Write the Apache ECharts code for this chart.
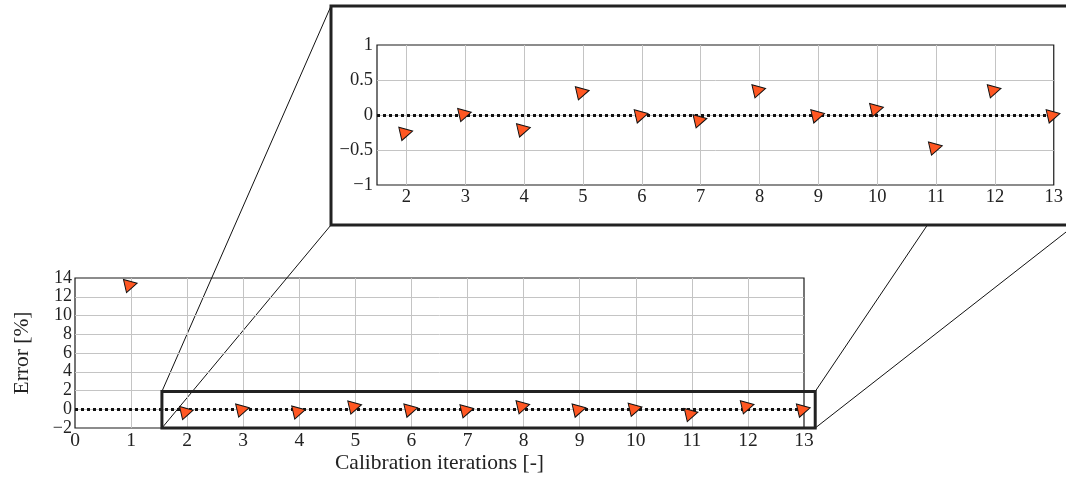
<!DOCTYPE html>
<html><head><meta charset="utf-8">
<script src="https://cdn.jsdelivr.net/npm/echarts@6/dist/echarts.min.js"></script>
<style>html,body{margin:0;padding:0;background:#fff}#c{width:1066px;height:477px}</style>
</head><body><div id="c"></div>
<script>
// ---- data ----
const iterations = [1, 2, 3, 4, 5, 6, 7, 8, 9, 10, 11, 12, 13];
const errors = [13.3, -0.25, 0.02, -0.2, 0.33, 0.0, -0.07, 0.36, 0.0, 0.09, -0.46, 0.36, 0.0];
const mainXRange = [0, 13];
const mainYRange = [-2, 14];
const insetXRange = [1.5, 13];
const insetYRange = [-1, 1];
const zoomBoxX = [1.55, 13.2];
const zoomBoxY = [-2, 1.9];
const xName = 'Calibration iterations [-]';
const yName = 'Error [%]';

const FONT = 'Liberation Serif';
const fmt = v => (v < 0 ? '\u2212' + Math.abs(v) : String(v));
const pairs = iterations.map((x, i) => [x, errors[i]]);
const insetPairs = pairs.filter(p => p[0] >= insetXRange[0] && p[0] <= insetXRange[1]);

const gridLine = { show: true, showMinLine: false, showMaxLine: false, lineStyle: { color: '#c4c4c4', width: 1 } };
const lbl = { color: '#222', fontFamily: FONT, fontSize: 19.5, hideOverlap: false };
const markerStyle = { color: '#ff5722', borderColor: '#111', borderWidth: 1, opacity: 1 };
const zeroLine = {
  silent: true, symbol: 'none', z: 1, label: { show: false },
  lineStyle: { color: '#111', type: [3, 3], width: 3, cap: 'butt' },
  emphasis: { disabled: true },
  data: [{ yAxis: 0 }]
};

const chart = echarts.init(document.getElementById('c'), null, { renderer: 'canvas' });
chart.setOption({
  animation: false,
  grid: [
    { left: 75, top: 278, width: 729, height: 150, show: true, borderColor: '#1a1a1a', borderWidth: 1.2, backgroundColor: 'transparent' },
    { left: 377, top: 45, width: 682, height: 140, show: true, borderColor: '#1a1a1a', borderWidth: 1.2, backgroundColor: 'transparent' }
  ],
  xAxis: [
    { type: 'value', gridIndex: 0, min: mainXRange[0], max: mainXRange[1], interval: 1,
      axisLine: { show: false }, axisTick: { show: false }, splitLine: gridLine,
      axisLabel: Object.assign({ margin: 3, formatter: fmt }, lbl),
      name: xName, nameLocation: 'middle', nameGap: 23,
      nameTextStyle: { color: '#222', fontFamily: FONT, fontSize: 21.5 } },
    { type: 'value', gridIndex: 1, min: insetXRange[0], max: insetXRange[1], interval: 0.5,
      axisLine: { show: false }, axisTick: { show: false },
      splitLine: { show: true, showMaxLine: false, lineStyle: { color: ['rgba(0,0,0,0)', '#c4c4c4'], width: 1 } },
      axisLabel: Object.assign({ margin: 3, showMinLabel: false,
        formatter: v => (Number.isInteger(v) ? fmt(v) : '') }, lbl, { fontSize: 18.5 }) }
  ],
  yAxis: [
    { type: 'value', gridIndex: 0, min: mainYRange[0], max: mainYRange[1], interval: 2,
      axisLine: { show: false }, axisTick: { show: false }, splitLine: gridLine,
      axisLabel: Object.assign({ margin: 3, formatter: fmt, lineHeight: 14 }, lbl, { fontSize: 18 }),
      name: yName, nameLocation: 'middle', nameGap: 42, nameRotate: 90,
      nameTextStyle: { color: '#222', fontFamily: FONT, fontSize: 21.5 } },
    { type: 'value', gridIndex: 1, min: insetYRange[0], max: insetYRange[1], interval: 0.5,
      axisLine: { show: false }, axisTick: { show: false }, splitLine: gridLine,
      axisLabel: Object.assign({ margin: 4, formatter: fmt }, lbl, { fontSize: 18.5 }) }
  ],
  series: [
    { type: 'scatter', xAxisIndex: 0, yAxisIndex: 0, data: pairs, z: 3,
      symbol: 'triangle', symbolSize: [13.5, 12.5], symbolRotate: -77, itemStyle: markerStyle,
      markLine: zeroLine },
    { type: 'scatter', xAxisIndex: 1, yAxisIndex: 1, data: insetPairs, z: 3,
      symbol: 'triangle', symbolSize: [13.5, 12.5], symbolRotate: -77, itemStyle: markerStyle,
      markLine: zeroLine }
  ]
});

// inset frame & connectors (derived from the zoom box in data coords)
const tl = chart.convertToPixel({ gridIndex: 0 }, [zoomBoxX[0], zoomBoxY[1]]);
const br = chart.convertToPixel({ gridIndex: 0 }, [zoomBoxX[1], zoomBoxY[0]]);
const inset = { x: 331, y: 6, w: 744, h: 219 };
const lineEl = (a, b) => ({ type: 'line', z: -2, silent: true,
  shape: { x1: a[0], y1: a[1], x2: b[0], y2: b[1] }, style: { stroke: '#111', lineWidth: 1 } });
chart.setOption({
  graphic: [
    lineEl([tl[0], tl[1]], [inset.x, inset.y]),
    lineEl([tl[0], br[1]], [inset.x, inset.y + inset.h]),
    lineEl([br[0], tl[1]], [inset.x + inset.w, inset.y]),
    lineEl([br[0], br[1]], [inset.x + inset.w, inset.y + inset.h]),
    { type: 'rect', z: -1, silent: true, shape: { x: inset.x, y: inset.y, width: inset.w, height: inset.h },
      style: { fill: '#fff', stroke: '#222', lineWidth: 3 } },
    { type: 'rect', z: 10, silent: true, shape: { x: tl[0], y: tl[1], width: br[0] - tl[0], height: br[1] - tl[1] },
      style: { fill: 'none', stroke: '#222', lineWidth: 3 } }
  ]
});
</script>
</body></html>
